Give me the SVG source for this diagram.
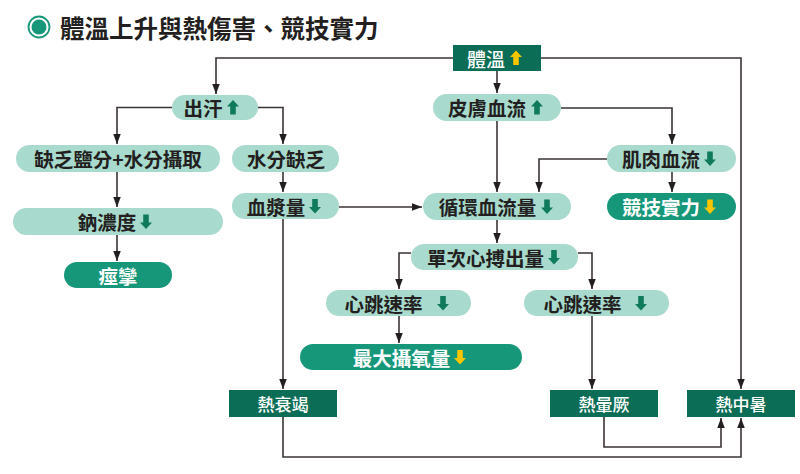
<svg xmlns="http://www.w3.org/2000/svg" xmlns:xlink="http://www.w3.org/1999/xlink" width="800" height="474" viewBox="0 0 800 474">
<style>
.pl{fill:#a8dacd}
.pd{fill:#16977a}
.bx{fill:#0c6d56}
.t{font-family:"Noto Sans CJK TC","Noto Sans CJK SC",sans-serif;font-weight:700;font-size:19.5px;fill:#231f20;text-anchor:middle;dominant-baseline:central}
.tw{fill:#ffffff}
.tb{font-family:"Noto Sans CJK TC","Noto Sans CJK SC",sans-serif;font-weight:500;font-size:17px;fill:#ffffff;text-anchor:middle;dominant-baseline:central}
.ag{fill:#0f7a5c}
.ay{fill:#f7c600}
.c path{fill:none;stroke:#3b3435;stroke-width:1.6;marker-end:url(#ah)}
</style>
<defs>
<marker id="ah" markerUnits="userSpaceOnUse" markerWidth="10" markerHeight="13" refX="12" refY="4.5" orient="auto" viewBox="0 0 12 9">
<path d="M0,0 L12,4.5 L0,9 Z" fill="#231f20"/>
</marker>
<path id="up" d="M0,-7.5 L6,-1 L2.8,-1 L2.8,7 L-2.8,7 L-2.8,-1 L-6,-1 Z"/>
<path id="dn" d="M0,7.5 L6,1 L2.8,1 L2.8,-7 L-2.8,-7 L-2.8,1 L-6,1 Z"/>
</defs>
<rect width="800" height="474" fill="#ffffff"/>
<g id="title">
<circle cx="39" cy="27" r="10.5" fill="none" stroke="#16977a" stroke-width="1.8"/>
<circle cx="39" cy="27" r="7.5" fill="#16977a"/>
<text x="60" y="27" font-family="Noto Sans CJK TC,Noto Sans CJK SC,sans-serif" font-weight="700" font-size="24.5" fill="#231f20" dominant-baseline="central">體溫上升與熱傷害、競技實力</text>
</g>
<g class="c" id="connectors">
<path d="M453,58 H216 V94"/>
<path d="M541,58 H741 V389"/>
<path d="M497,71 V93"/>
<path d="M172,107.5 H117 V144"/>
<path d="M258,107.5 H283 V144"/>
<path d="M117,172 V207"/>
<path d="M117,235 V261"/>
<path d="M283,172 V192"/>
<path d="M339,207 H422"/>
<path d="M283,219 V389"/>
<path d="M561,108 H672 V144"/>
<path d="M497,121 V192"/>
<path d="M607,159 H539 V192"/>
<path d="M672,172 V192"/>
<path d="M497,220 V243"/>
<path d="M411,253 H399 V289"/>
<path d="M578,253 H592 V289"/>
<path d="M399,316 V343"/>
<path d="M592,316 V389"/>
<path d="M604,417 V447 H721 V418"/>
<path d="M283,417 V457 H741 V418"/>
</g>
<g id="n-body-temp"><rect class="bx" x="453" y="45" width="88" height="26"/><text class="tb" x="486" y="58" style="font-size:19px">體溫</text><use href="#up" x="516" y="58" class="ay"/></g>
<g id="n-sweat"><rect class="pl" x="172" y="95" width="86" height="25" rx="12.5"/><text class="t" x="203" y="107.5">出汗</text><use href="#up" x="233" y="107.5" class="ag"/></g>
<g id="n-skin"><rect class="pl" x="433" y="94" width="128" height="27" rx="13.5"/><text class="t" x="487" y="107.5">皮膚血流</text><use href="#up" x="537" y="107.5" class="ag"/></g>
<g id="n-lack-salt"><rect class="pl" x="16" y="145" width="204" height="27" rx="13.5"/><text class="t" x="118" y="158.5">缺乏鹽分+水分攝取</text></g>
<g id="n-lack-water"><rect class="pl" x="232" y="145" width="107" height="27" rx="13.5"/><text class="t" x="286" y="158.5">水分缺乏</text></g>
<g id="n-muscle"><rect class="pl" x="607" y="145" width="129" height="27" rx="13.5"/><text class="t" x="661" y="158.5">肌肉血流</text><use href="#dn" x="710" y="158.5" class="ag"/></g>
<g id="n-sodium"><rect class="pl" x="13" y="208" width="210" height="27" rx="13.5"/><text class="t" x="107" y="221.5">鈉濃度</text><use href="#dn" x="146" y="221.5" class="ag"/></g>
<g id="n-plasma"><rect class="pl" x="232" y="193" width="107" height="26" rx="13"/><text class="t" x="276" y="206">血漿量</text><use href="#dn" x="315" y="206" class="ag"/></g>
<g id="n-circ"><rect class="pl" x="423" y="193" width="148" height="27" rx="13.5"/><text class="t" x="487.5" y="206.5">循環血流量</text><use href="#dn" x="547" y="206.5" class="ag"/></g>
<g id="n-perf"><rect class="pd" x="607" y="193" width="129" height="27" rx="13.5"/><text class="t tw" x="661" y="206.5">競技實力</text><use href="#dn" x="710" y="206.5" class="ay"/></g>
<g id="n-cramp"><rect class="pd" x="64" y="262" width="108" height="26" rx="13"/><text class="t tw" x="118" y="275">痙攣</text></g>
<g id="n-stroke-vol"><rect class="pl" x="411" y="244" width="167" height="26" rx="13"/><text class="t" x="485.5" y="257">單次心搏出量</text><use href="#dn" x="554" y="257" class="ag"/></g>
<g id="n-hr-left"><rect class="pl" x="326" y="290" width="145" height="26" rx="13"/><text class="t" x="383.5" y="303">心跳速率</text><use href="#dn" x="443" y="303" class="ag"/></g>
<g id="n-hr-right"><rect class="pl" x="524" y="290" width="145" height="26" rx="13"/><text class="t" x="582.5" y="303">心跳速率</text><use href="#dn" x="641" y="303" class="ag"/></g>
<g id="n-vo2"><rect class="pd" x="300" y="344" width="222" height="26" rx="13"/><text class="t tw" x="401.5" y="357">最大攝氧量</text><use href="#dn" x="460" y="357" class="ay"/></g>
<g id="n-exhaustion"><rect class="bx" x="229" y="390" width="108" height="27"/><text class="tb" x="283" y="403.5">熱衰竭</text></g>
<g id="n-syncope"><rect class="bx" x="550" y="390" width="108" height="27"/><text class="tb" x="604" y="403.5">熱暈厥</text></g>
<g id="n-heatstroke"><rect class="bx" x="687" y="390" width="108" height="27"/><text class="tb" x="741" y="403.5">熱中暑</text></g>
</svg>
